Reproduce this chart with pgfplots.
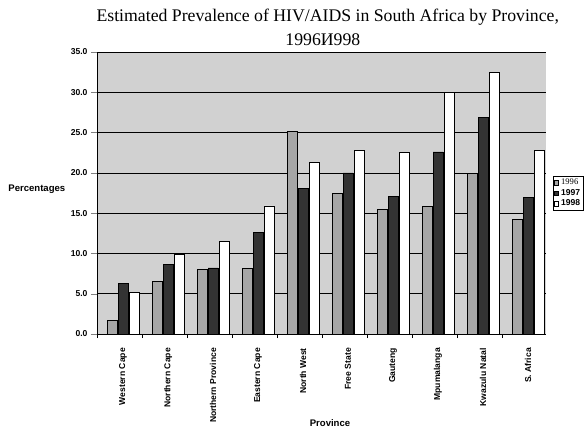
\documentclass[border=0pt]{standalone}
\usepackage{fontspec}
\setmainfont{Liberation Serif}
\setsansfont{Liberation Sans}
\usepackage{pgfplots}
\usepackage{pgfplotstable}
\pgfplotsset{compat=1.18}

% antenatal survey, percent
\pgfplotstableread{
idx y96 y97 y98
0 1.7 6.3 5.2
1 6.5 8.6 9.9
2 8.0 8.2 11.5
3 8.1 12.6 15.9
4 25.1 18.1 21.3
5 17.5 20.0 22.8
6 15.5 17.1 22.5
7 15.8 22.6 30.0
8 19.9 26.9 32.5
9 14.2 17.0 22.8
}\hiv

\newcommand{\lbl}{\sffamily\bfseries\fontsize{8.6}{9}\selectfont}
\newcommand{\axlbl}{\sffamily\bfseries\fontsize{9.6}{10}\selectfont}

\begin{document}
\begin{tikzpicture}
\useasboundingbox (-97bp,-97bp) rectangle (489bp,334bp);
\begin{axis}[
  at={(0,0)}, anchor=south west,
  scale only axis, width=449bp, height=282bp,
  ybar=1bp, bar width=10bp,
  xmin=-0.58, xmax=9.4, ymin=0, ymax=35,
  axis x line*=bottom, axis y line*=left,
  axis background/.style={fill=black!18},
  ymajorgrids, grid style={black, line width=0.5pt},
  ytick={0,5,...,35},
  yticklabel style={font=\lbl, /pgf/number format/.cd, fixed, fixed zerofill, precision=1, assume math mode=true},
  xtick={0,...,9},
  xticklabels={Western Cape, Northern Cape, Northern Province, Eastern Cape, North West, Free State, Gauteng, Mpumalanga, Kwazulu Natal, S. Africa},
  xticklabel style={font=\lbl, rotate=90, anchor=east, inner sep=0pt},
  xticklabel shift=8bp,
  minor xtick={-0.58,0.42,...,8.42},
  major x tick style={draw=none},
  minor x tick style={black},
  tick align=outside, major tick length=6bp, minor tick length=4bp,
  axis line style={black, line width=0.6pt},
  legend style={at={(axis description cs:1.015,0.56)}, anchor=north west, draw=black, fill=white,
    font=\lbl, inner sep=1pt, row sep=-1pt, cells={anchor=west}},
  legend image code/.code={\draw[#1] (0cm,-0.08cm) rectangle (0.16cm,0.08cm);},
  clip=false,
]
\addplot[draw=black, line width=0.7pt, fill=black!35] table[x=idx, y=y96] {\hiv};
\addlegendentry{\rmfamily\mdseries 1996}
\addplot[draw=black, line width=0.7pt, fill=black!80] table[x=idx, y=y97] {\hiv};
\addlegendentry{1997}
\addplot[draw=black, line width=0.7pt, fill=white] table[x=idx, y=y98] {\hiv};
\addlegendentry{1998}

\node[font=\fontsize{17.8}{20}\selectfont] at (axis description cs:0.514,1.122) {Estimated Prevalence of HIV/AIDS in South Africa by Province,};
\node[font=\fontsize{17.8}{20}\selectfont] at (axis description cs:0.503,1.044) {1996И998};
\node[font=\axlbl] at (axis description cs:-0.134,0.514) {Percentages};
\node[font=\axlbl] at (axis description cs:0.519,-0.316) {Province};
\end{axis}
\end{tikzpicture}
\end{document}
